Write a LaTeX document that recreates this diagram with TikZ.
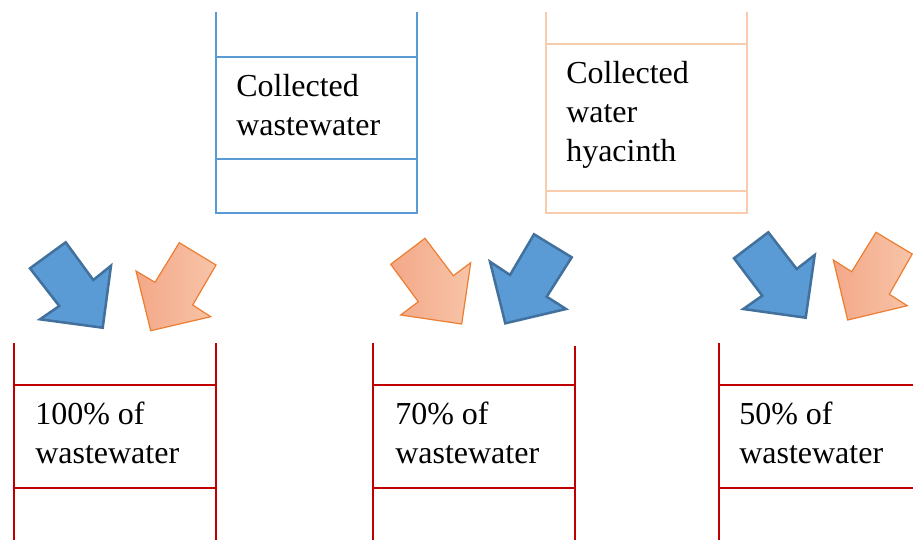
\documentclass[tikz,border=0pt]{standalone}
\usepackage{fontspec}
\setmainfont{Liberation Serif}
\definecolor{tankblue}{HTML}{5B9BD5}
\definecolor{tankpeach}{HTML}{F8CBAD}
\definecolor{tankred}{HTML}{C00000}
\definecolor{arrblue}{HTML}{5B9BD5}
\definecolor{arrbluedk}{HTML}{41719C}
\definecolor{arrorange}{HTML}{ED7D31}
\definecolor{arrfillA}{HTML}{F3A888}
\definecolor{arrfillB}{HTML}{F8C4A8}
\tikzset{
  bluetank/.style={draw=tankblue, line width=1pt},
  peachtank/.style={draw=tankpeach, line width=1pt},
  redtank/.style={draw=tankred, line width=1pt},
  bluearrow/.style={fill=arrblue, draw=arrbluedk, line width=1.9pt, line join=miter},
  orangearrow/.style={left color=arrfillA, right color=arrfillB, draw=arrorange, line width=0.9pt, line join=miter},
  label/.style={anchor=base west, align=left, inner sep=0pt, font=\fontsize{24}{29}\selectfont}
}
\begin{document}
\begin{tikzpicture}[x=0.75pt,y=-0.75pt]
\useasboundingbox (0,0) rectangle (913,540);
% top tanks
\draw[bluetank] (216,12) -- (216,213) -- (417,213) -- (417,12);
\draw[bluetank] (216,57) -- (417,57) (216,159) -- (417,159);
\node[label] (ww) at (236,135) {Collected\\wastewater};
\draw[peachtank] (546,12) -- (546,213) -- (747,213) -- (747,12);
\draw[peachtank] (546,44) -- (747,44) (546,191) -- (747,191);
\node[label] (wh) at (566,161) {Collected\\water\\hyacinth};
% bottom tanks
\draw[redtank] (14,343) -- (14,540) (216,343) -- (216,540);
\draw[redtank] (14,385) -- (216,385) (14,488) -- (216,488);
\node[label] (t100) at (35,463) {100\% of\\wastewater};
\draw[redtank] (373,343) -- (373,540) (575,346) -- (575,540);
\draw[redtank] (373,385) -- (575,385) (373,488) -- (575,488);
\node[label] (t70) at (395,463) {70\% of\\wastewater};
\draw[redtank] (719,343) -- (719,540);
\draw[redtank] (719,385) -- (913,385) (719,488) -- (913,488);
\node[label] (t50) at (739,463) {50\% of\\wastewater};
% arrows
\draw[bluearrow] (65.7,242.3) -- (30,268.3) -- (59.3,306) -- (40,319.3) -- (102.7,327.7) -- (111,265.7) -- (93.3,280) -- cycle;
\draw[orangearrow] (179.3,242.7) -- (216,265) -- (192.7,305) -- (210.7,316.7) -- (150.7,330.7) -- (136,271) -- (155,282.3) -- cycle;
\draw[orangearrow] (425,238.3) -- (390.7,264.3) -- (418.3,301.7) -- (400.7,315) -- (461.7,324) -- (470.7,262.7) -- (453.3,275.7) -- cycle;
\draw[bluearrow] (534,234.3) -- (571.7,257.3) -- (546.7,296.7) -- (566,309) -- (505.3,323.3) -- (490,261.7) -- (510,275) -- cycle;
\draw[bluearrow] (768.3,232.3) -- (734,258.3) -- (762.3,295.7) -- (743.3,309) -- (805.7,317.7) -- (814.7,255) -- (796.7,269) -- cycle;
\draw[orangearrow] (876,232.3) -- (912.2,254) -- (889.3,294.3) -- (907.3,305.7) -- (847.7,320) -- (833.3,260) -- (851.7,271.7) -- cycle;
\end{tikzpicture}
\end{document}
